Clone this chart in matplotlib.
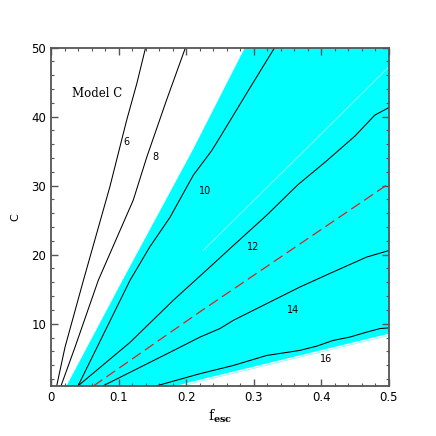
import matplotlib
matplotlib.use("Agg")
import matplotlib.pyplot as plt
from matplotlib.ticker import MultipleLocator

# Contour lines (f_esc, C)
c6_x = [0.0084, 0.0207, 0.048, 0.087, 0.112, 0.127, 0.140]
c6_y = [1, 6.6, 16.3, 29.8, 39.5, 44.8, 50]
c8_x = [0.0148, 0.0355, 0.070, 0.1217, 0.1416, 0.171, 0.199]
c8_y = [1, 6.6, 16.3, 27.9, 34.1, 42.4, 50]
c10_x = [0.040, 0.117, 0.146, 0.176, 0.2105, 0.238, 0.25, 0.294, 0.331]
c10_y = [1, 16.3, 21.1, 25.4, 31.5, 35.1, 37.0, 44.1, 50]
c12_x = [0.040, 0.117, 0.181, 0.235, 0.265, 0.319, 0.365, 0.408, 0.45, 0.479, 0.5]
c12_y = [1, 7.3, 13.4, 18.2, 20.9, 25.7, 30.1, 33.6, 37.2, 40.2, 41.3]
c14_x = [0.077, 0.183, 0.2204, 0.25, 0.27, 0.319, 0.368, 0.4176, 0.467, 0.5]
c14_y = [1, 6.2, 8.06, 9.3, 10.5, 12.9, 15.3, 17.5, 19.65, 20.6]
c16_x = [0.156, 0.22, 0.27, 0.319, 0.368, 0.393, 0.4176, 0.442, 0.467, 0.487, 0.5]
c16_y = [1, 2.75, 3.96, 5.4, 6.13, 6.75, 7.58, 8.06, 8.78, 9.3, 9.4]
contours = [(c6_x, c6_y), (c8_x, c8_y), (c10_x, c10_y),
            (c12_x, c12_y), (c14_x, c14_y), (c16_x, c16_y)]
contour_labels = ["6", "8", "10", "12", "14", "16"]
label_x = [0.112, 0.154, 0.228, 0.299, 0.358, 0.4075]
label_y = [36.3, 34.2, 29.2, 21.1, 12.0, 4.9]

# red dashed line
red_x = [0.063, 0.22, 0.5]
red_y = [1, 11.7, 30.3]

# edges of the cyan band
upper_x = [0.023, 0.107, 0.2105, 0.287]
upper_y = [1, 16.5, 35.3, 50]
lower_x = [0.185, 0.22, 0.5]
lower_y = [1, 1.88, 8.55]

# faint streak inside the band
streak_x = [0.225, 0.368, 0.5]
streak_y = [20.6, 34.4, 47.2]

x_min, x_max = 0, 0.5
c_min, c_max = 1, 50

fig = plt.figure(figsize=(4.36, 4.36), dpi=100)
ax = fig.add_axes([0.117, 0.115, 0.775, 0.776])

# cyan band polygon
poly_x = upper_x + [x_max, x_max] + lower_x[::-1]
poly_y = upper_y + [c_max, lower_y[-1]] + lower_y[::-1]
ax.fill(poly_x, poly_y, color="#00ffff", lw=0, zorder=1)
ax.plot(lower_x, [v - 0.25 for v in lower_y], color="#80ffff", lw=0.6, zorder=1)
ax.plot(streak_x, streak_y, color="#a8ffff", lw=0.6, zorder=1.5)

for (cx, cy) in contours:
    ax.plot(cx, cy, color="black", lw=0.75, zorder=2)

ax.plot(red_x, red_y, color="#e0201a", lw=0.9, dashes=(8.5, 4), zorder=3)

for lab, lx, ly in zip(contour_labels, label_x, label_y):
    ax.text(lx, ly, lab, fontsize=7, ha="center", va="center", zorder=4)

ax.text(0.0676, 43.3, "Model C", fontsize=8.5, ha="center", va="center",
        family="DejaVu Serif")

ax.set_xlim(x_min, x_max)
ax.set_ylim(c_min, c_max)

ax.xaxis.set_major_locator(MultipleLocator(0.1))
ax.xaxis.set_minor_locator(MultipleLocator(0.02))
ax.yaxis.set_major_locator(MultipleLocator(10))
ax.yaxis.set_minor_locator(MultipleLocator(2))
ax.set_xticks([0, 0.1, 0.2, 0.3, 0.4, 0.5])
ax.set_xticklabels(["0", "0.1", "0.2", "0.3", "0.4", "0.5"])

frame_col = "#555555"
ax.tick_params(which="both", direction="in", top=True, right=True,
               color=frame_col, labelsize=8.5)
ax.tick_params(which="major", length=5, width=1)
ax.tick_params(which="minor", length=2.5, width=0.8)
for sp in ax.spines.values():
    sp.set_color(frame_col)
    sp.set_linewidth(1.3)

ax.set_xlabel(r"$\mathrm{f}_{\mathbf{esc}}$", fontsize=10, labelpad=3,
              math_fontfamily="dejavuserif")
ax.set_ylabel("C", fontsize=8, labelpad=8)

fig.savefig("out.png", dpi=100)
